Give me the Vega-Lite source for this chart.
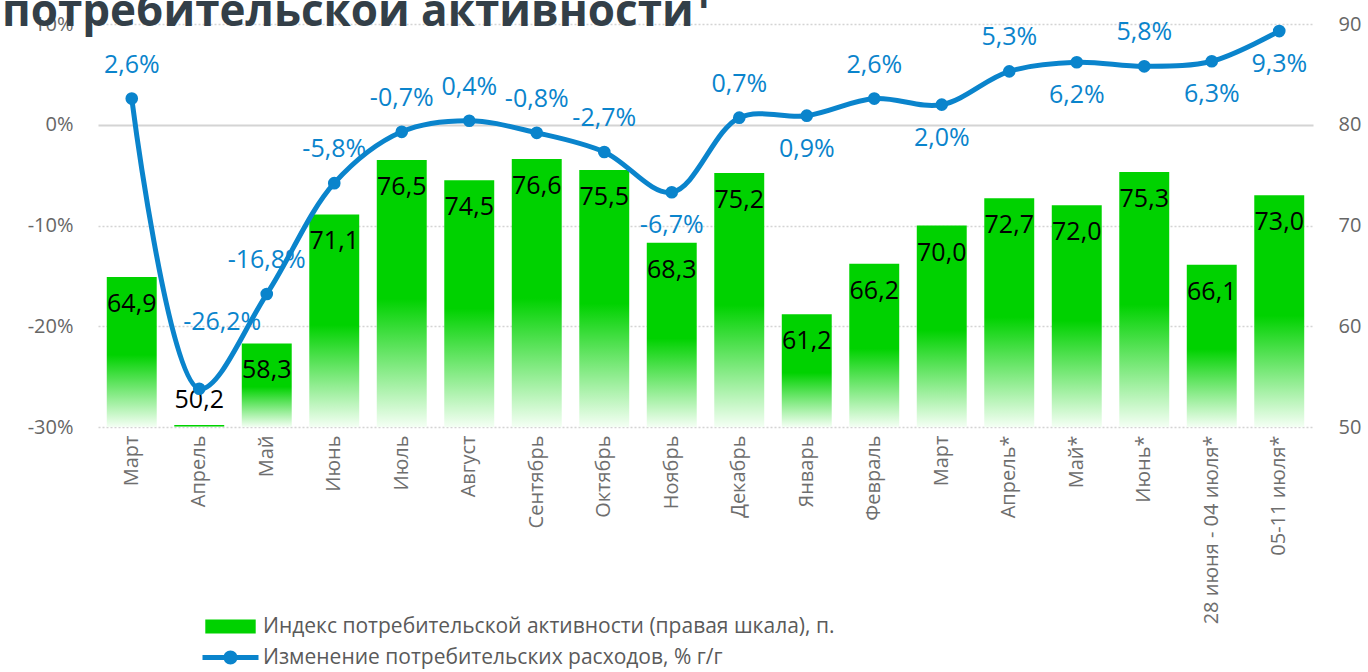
{
  "$schema": "https://vega.github.io/schema/vega-lite/v6.json",
  "width": 1215,
  "height": 403,
  "autosize": {"type": "none"},
  "padding": {"left": 98, "right": 55, "top": 24, "bottom": 245},
  "background": "#ffffff",
  "config": {
    "locale": {"number": {"decimal": ",", "thousands": " ", "grouping": [3], "currency": ["", " ₽"], "minus": "-"}},
    "view": {"stroke": null},
    "font": "Open Sans",
    "text": {"font": "Open Sans"}
  },
  "title": {
    "text": "потребительской активности¹",
    "anchor": "start",
    "frame": "group",
    "dx": -96,
    "offset": 0,
    "dy": 56,
    "baseline": "alphabetic",
    "fontSize": 44,
    "fontWeight": "bold",
    "color": "#333f48",
    "font": "Open Sans"
  },
  "data": {
    "values": [
      {"key": "Март|20", "activity": 64.9, "change": 0.026},
      {"key": "Апрель|20", "activity": 50.2, "change": -0.262},
      {"key": "Май|20", "activity": 58.3, "change": -0.168},
      {"key": "Июнь|20", "activity": 71.1, "change": -0.058},
      {"key": "Июль|20", "activity": 76.5, "change": -0.007},
      {"key": "Август|20", "activity": 74.5, "change": 0.004},
      {"key": "Сентябрь|20", "activity": 76.6, "change": -0.008},
      {"key": "Октябрь|20", "activity": 75.5, "change": -0.027},
      {"key": "Ноябрь|20", "activity": 68.3, "change": -0.067},
      {"key": "Декабрь|20", "activity": 75.2, "change": 0.007},
      {"key": "Январь|21", "activity": 61.2, "change": 0.009},
      {"key": "Февраль|21", "activity": 66.2, "change": 0.026},
      {"key": "Март|21", "activity": 70.0, "change": 0.020},
      {"key": "Апрель*|21", "activity": 72.7, "change": 0.053},
      {"key": "Май*|21", "activity": 72.0, "change": 0.062},
      {"key": "Июнь*|21", "activity": 75.3, "change": 0.058},
      {"key": "28 июня - 04 июля*|21", "activity": 66.1, "change": 0.063},
      {"key": "05-11 июля*|21", "activity": 73.0, "change": 0.093}
    ]
  },
  "layer": [
    {
      "encoding": {
        "x": {
          "field": "key", "type": "nominal", "sort": null,
          "scale": {"paddingInner": 0.26, "paddingOuter": 0.13},
          "axis": {
            "title": null, "labelAngle": -90, "labelPadding": 8, "labelFontSize": 20,
            "labelColor": "#6e6e6e", "labelFont": "Open Sans", "ticks": false, "domain": false,
            "labelLimit": 400, "labelOverlap": false, "zindex": 1,
            "labelExpr": "split(datum.value, '|')[0]"
          }
        },
        "y": {
          "field": "activity", "type": "quantitative",
          "scale": {"domain": [50, 90], "nice": false, "zero": false},
          "axis": {
            "orient": "right", "title": null, "values": [50, 60, 70, 80, 90],
            "grid": false, "domain": false, "ticks": false, "labelPadding": 25,
            "labelFontSize": 20, "labelColor": "#666666", "labelFont": "Open Sans"
          }
        }
      },
      "layer": [
        {
          "mark": {
            "type": "bar",
            "color": {"gradient": "linear", "x1": 0, "y1": 0, "x2": 0, "y2": 1,
              "stops": [{"offset": 0, "color": "#00d200"}, {"offset": 0.52, "color": "#00d200"}, {"offset": 1, "color": "#f4fff4"}]}
          },
          "encoding": {"y2": {"datum": 50}}
        },
        {
          "transform": [{"filter": "datum.activity >= 55"}],
          "mark": {"type": "text", "dy": 27, "baseline": "middle", "fontSize": 25, "color": "#000000"},
          "encoding": {"text": {"field": "activity", "type": "quantitative", "format": ".1f"}}
        },
        {
          "transform": [{"filter": "datum.activity < 55"}],
          "mark": {"type": "text", "dy": -25, "baseline": "middle", "fontSize": 25, "color": "#000000"},
          "encoding": {"text": {"field": "activity", "type": "quantitative", "format": ".1f"}}
        }
      ]
    },
    {
      "encoding": {
        "x": {"field": "key", "type": "nominal", "sort": null},
        "y": {
          "field": "change", "type": "quantitative",
          "scale": {"domain": [-0.3, 0.1], "nice": false, "zero": false},
          "axis": {
            "orient": "left", "title": null, "values": [-0.3, -0.2, -0.1, 0, 0.1], "format": ".0%",
            "grid": true, "gridColor": "#d4d4d4",
            "gridDash": {"condition": {"test": "datum.value === 0", "value": []}, "value": [2, 2]},
            "gridWidth": {"condition": {"test": "datum.value === 0", "value": 2}, "value": 1.5},
            "domain": false, "ticks": false, "labelPadding": 25,
            "labelFontSize": 20, "labelColor": "#666666", "labelFont": "Open Sans"
          }
        }
      },
      "layer": [
        {
          "mark": {"type": "line", "color": "#0a84cc", "strokeWidth": 5, "interpolate": "catmull-rom"}
        },
        {
          "mark": {"type": "circle", "size": 160, "opacity": 1},
          "encoding": {
            "fill": {
              "datum": "Изменение потребительских расходов, % г/г",
              "type": "nominal",
              "scale": {
                "domain": ["Индекс потребительской активности (правая шкала), п.", "Изменение потребительских расходов, % г/г"],
                "range": ["#00d200", "#0a84cc"]
              },
              "legend": {
                "title": null,
                "orient": "none",
                "legendX": 122,
                "legendY": 592,
                "direction": "vertical",
                "padding": 0,
                "symbolSize": 196,
                "symbolStrokeWidth": 0,
                "symbolOpacity": 1,
                "labelOffset": 22,
                "labelFontSize": 21,
                "labelColor": "#5a5a5a",
                "labelFont": "Open Sans",
                "labelLimit": 800,
                "rowPadding": 9,
                "encode": {
                  "symbols": {
                    "update": {
                      "shape": {"signal": "datum.index === 0 ? 'M-3.6,-1H3.6V1H-3.6Z' : 'M-4,-0.36H4V0.36H-4Z M-1,0 A1,1 0 1,1 1,0 A1,1 0 1,1 -1,0 Z'"},
                      "fill": [
                        {"test": "datum.index === 0", "value": {"gradient": "linear", "x1": 0, "y1": 0, "x2": 0, "y2": 1,
                          "stops": [{"offset": 0, "color": "#00d200"}, {"offset": 0.45, "color": "#00d200"}, {"offset": 1, "color": "#e0f8e0"}]}},
                        {"value": "#0a84cc"}
                      ],
                      "strokeWidth": {"value": 0}
                    }
                  }
                }
              }
            }
          }
        },
        {
          "transform": [{"filter": {"field": "key", "oneOf": ["Март|20", "Май|20", "Июнь|20", "Июль|20", "Август|20", "Сентябрь|20", "Октябрь|20", "Декабрь|20", "Февраль|21", "Апрель*|21", "Июнь*|21"]}}],
          "mark": {"type": "text", "dy": -34, "baseline": "middle", "fontSize": 25, "color": "#0a84cc"},
          "encoding": {"text": {"field": "change", "type": "quantitative", "format": ".1%"}}
        },
        {
          "transform": [{"filter": {"field": "key", "oneOf": ["Ноябрь|20", "Январь|21", "Март|21", "Май*|21", "28 июня - 04 июля*|21", "05-11 июля*|21"]}}],
          "mark": {"type": "text", "dy": 33, "baseline": "middle", "fontSize": 25, "color": "#0a84cc"},
          "encoding": {"text": {"field": "change", "type": "quantitative", "format": ".1%"}}
        },
        {
          "transform": [{"filter": {"field": "key", "oneOf": ["Апрель|20"]}}],
          "mark": {"type": "text", "dy": -67, "dx": 23, "baseline": "middle", "fontSize": 25, "color": "#0a84cc"},
          "encoding": {"text": {"field": "change", "type": "quantitative", "format": ".1%"}}
        }
      ]
    }
  ],
  "resolve": {"scale": {"y": "independent"}}
}
